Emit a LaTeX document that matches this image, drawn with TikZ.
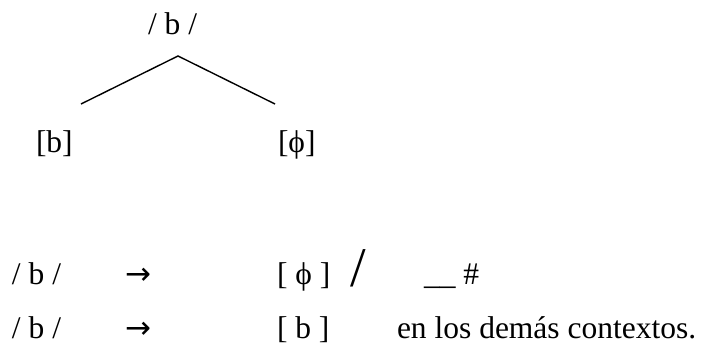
\documentclass[tikz,border=0pt]{standalone}
\usepackage{fontspec}
\setmainfont{Liberation Serif}
\newfontfamily\arrowfont{DejaVu Sans}
\begin{document}
\begin{tikzpicture}[x=1pt,y=-1pt,
  txt/.style={inner sep=0pt,outer sep=0pt,anchor=base west,font=\fontsize{31.5}{36}\selectfont},
  arrowtxt/.style={inner sep=0pt,outer sep=0pt,anchor=base west,font=\arrowfont\fontsize{31}{36}\selectfont},
  bigslash/.style={inner sep=0pt,outer sep=0pt,anchor=base west,font=\fontsize{56}{64}\selectfont},
  branch/.style={line width=1.4pt}]
\useasboundingbox (0,0) rectangle (703,348);
% tree
\node[txt] (top) at (148,34) {/ b /};
\node[txt] (lb) at (36,152) {[b]};
\node[txt] (rb) at (278,152) {[ϕ]};
\coordinate (apex) at (178,56);
\coordinate (lend) at (81,104);
\coordinate (rend) at (275,104);
\draw[branch] (lend) -- (apex) -- (rend);
% rule 1
\node[txt] (r1a) at (12,284) {/ b /};
\node[arrowtxt] (r1arr) at (125,284) {→};
\node[txt] (r1b) at (277,284) {[ ϕ ]};
\node[bigslash] (r1sl) at (350,286) {/};
\node[txt] (r1c) at (424,284) {\_\_ \#};
% rule 2
\node[txt] (r2a) at (12,338) {/ b /};
\node[arrowtxt] (r2arr) at (125,338) {→};
\node[txt] (r2b) at (277,338) {[ b ]};
\node[txt] (r2c) at (397,338) {en los demás contextos.};
\end{tikzpicture}
\end{document}
